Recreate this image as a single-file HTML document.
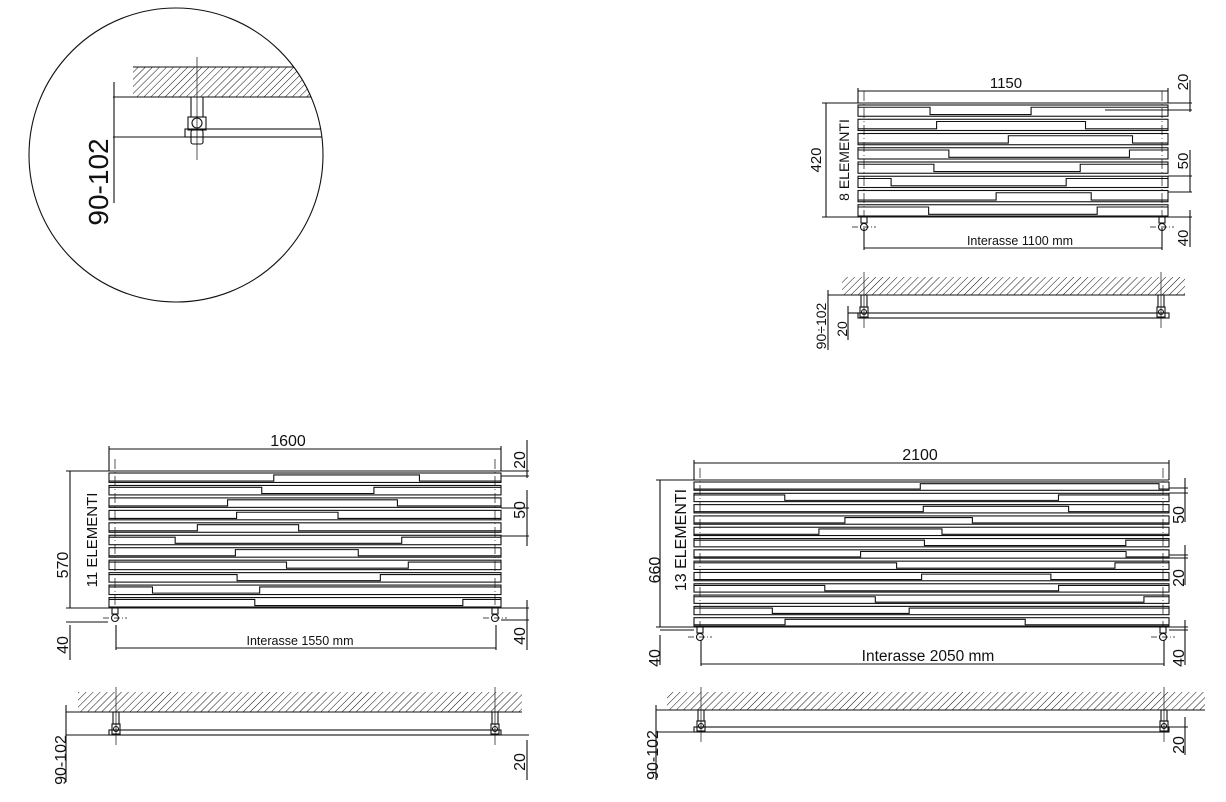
<!DOCTYPE html>
<html><head><meta charset="utf-8"><style>
html,body{margin:0;padding:0;background:#fff;}
svg{display:block;font-family:"Liberation Sans",Arial,sans-serif;}
</style></head><body>
<svg id="s" width="1226" height="802" viewBox="0 0 1226 802" xmlns="http://www.w3.org/2000/svg">
<defs>
<pattern id="h" width="5" height="5" patternUnits="userSpaceOnUse" patternTransform="rotate(45)">
<line x1="0" y1="0" x2="0" y2="5" stroke="#111" stroke-width="1"/></pattern>
<clipPath id="cc"><circle cx="176" cy="155" r="147"/></clipPath>
</defs>
<g id="g" fill="none" stroke="#111" stroke-width="1.1"></g>
<g id="t" fill="#111" stroke="none"></g>
</svg>
<script>
var g=document.getElementById('g'),t=document.getElementById('t'),NS='http://www.w3.org/2000/svg';
function el(p,tag,a,txt){var e=document.createElementNS(NS,tag);for(var k in a)e.setAttribute(k,a[k]);if(txt)e.textContent=txt;p.appendChild(e);return e;}
function L(x1,y1,x2,y2,extra){var a={x1:x1,y1:y1,x2:x2,y2:y2};if(extra)for(var k in extra)a[k]=extra[k];return el(g,'line',a);}
function R(x,y,w,h,extra){var a={x:x,y:y,width:w,height:h};if(extra)for(var k in extra)a[k]=extra[k];return el(g,'rect',a);}
function T(x,y,s,size,rot,anchor){var a={x:x,y:y,'font-size':size,'text-anchor':anchor||'middle'};if(rot)a.transform='rotate(-90 '+x+' '+y+')';return el(t,'text',a,s);}
var seed=3;function rnd(){seed=(seed*9301+49297)%233280;return seed/233280;}
function rad(x0,x1,top,bot,n){
  var h=(bot-top)/n;
  L(x0,top,x1,top);
  for(var i=0;i<n;i++){
    var y=top+i*h;
    R(x0,y+2,x1-x0,h-3);
    var a=x0+(x1-x0)*(0.1+rnd()*0.4),b=a+(x1-x0)*(0.25+rnd()*0.35);if(b>x1-10)b=x1-10;
    var hi=y+2+(h-3)*0.2,lo=y+2+(h-3)*0.85;
    var up=rnd()<0.5;
    el(g,'polyline',{points:x0+','+(up?lo:hi)+' '+a+','+(up?lo:hi)+' '+a+','+(up?hi:lo)+' '+b+','+(up?hi:lo)+' '+b+','+(up?lo:hi)+' '+x1+','+(up?lo:hi)});
  }
  L(x0,bot,x1,bot);
  L(x0+6,top-12,x0+6,bot,{'stroke-dasharray':'10 3 1 3','stroke-width':0.7});
  L(x1-6,top-12,x1-6,bot,{'stroke-dasharray':'10 3 1 3','stroke-width':0.7});
  [x0+6,x1-6].forEach(function(x){R(x-3,bot,6,6);el(g,'circle',{cx:x,cy:bot+10,r:3.5});L(x-12,bot+10,x+12,bot+10,{'stroke-dasharray':'6 2 1 2','stroke-width':0.7});});
}
function side(hx0,hx1,hy0,hy1,lx,bx0,bx1,by,vx){
  R(hx0,hy0,hx1-hx0,hy1-hy0,{fill:'url(#h)',stroke:'none'});
  L(lx,hy1,hx1,hy1);
  R(bx0,by,bx1-bx0,5);
  vx.forEach(function(x){R(x-3,hy1,6,by-hy1-6);R(x-4,by-6,8,10);el(g,'circle',{cx:x,cy:by-1,r:2.5});L(x,hy0-5,x,by+15,{'stroke-width':0.7});});
}
el(g,'circle',{cx:176,cy:155,r:147});
var cg=el(g,'g',{'clip-path':'url(#cc)'});
el(cg,'rect',{x:133,y:67,width:200,height:30,fill:'url(#h)',stroke:'none'});
el(cg,'line',{x1:133,y1:67,x2:330,y2:67});
el(cg,'line',{x1:113,y1:97,x2:330,y2:97});
el(cg,'rect',{x:185,y:129,width:150,height:8});
L(191,97,191,117);L(203,97,203,117);
R(188,117,18,13);el(g,'circle',{cx:197,cy:123,r:5});R(191,130,12,14,{rx:2});
L(197,57,197,160,{'stroke-width':0.7});
L(114,82,114,203);L(113,137,185,137);
T(108,182,'90-102',28,true);
rad(858,1168,103,217,8);
L(858,91,1168,91);L(858,88,858,103);L(1168,88,1168,103);
L(826,103,826,217);L(822,103,858,103);L(822,217,858,217);
L(1190,80,1190,112);L(1168,103,1192,103);L(1105,110,1192,110);
L(1190,150,1190,192);L(1168,176,1192,176);L(1168,192,1192,192);
L(1190,210,1190,247);L(1168,217,1192,217);
L(864,248,1162,248);L(864,228,864,250);L(1162,228,1162,250);
T(1006,88,'1150',15);T(821,160,'420',15,true);T(849,160,'8 ELEMENTI',14,true);
T(1188,82,'20',15,true);T(1188,161,'50',15,true);T(1188,238,'40',15,true);
T(1020,245,'Interasse 1100 mm',12.5);
side(842,1185,277,295,828,858,1169,313,[864,1161]);
L(828,290,828,350);L(848,306,848,340);L(848,313,858,313);
T(826,326,'90÷102',14,true);T(847,329,'20',14,true);
rad(109,501,471,608,11);
L(109,449,501,449);L(109,446,109,471);L(501,446,501,471);
L(70,471,70,608);L(66,471,109,471);L(66,608,109,608);L(66,622,108,622);
L(527,440,527,478);L(501,471,529,471);L(501,476,529,476);
L(527,490,527,546);L(501,508,529,508);L(501,536,529,536);
L(527,600,527,650);L(501,608,529,608);L(501,620,529,620);
L(116,648,496,648);L(116,625,116,650);L(496,625,496,650);
L(70,625,70,660);
T(288,446,'1600',16);T(68,565,'570',16,true);T(97,540,'11 ELEMENTI',15,true);
T(525,460,'20',16,true);T(525,510,'50',16,true);T(525,636,'40',16,true);T(68,645,'40',16,true);
T(300,645,'Interasse 1550 mm',12.5);
side(78,522,692,712,66,109,501,730,[116,495]);
L(66,705,66,782);L(66,735,109,735);L(527,740,527,780);L(501,735,529,735);
T(66,760,'90-102',16,true);T(525,762,'20',16,true);
rad(694,1169,480,627,13);
L(694,463,1169,463);L(694,460,694,480);L(1169,460,1169,480);
L(660,480,660,627);L(656,480,694,480);L(656,627,694,627);L(660,630,694,630);
L(1185,478,1185,522);L(1169,488,1188,488);L(1169,493,1188,493);
L(1185,545,1185,585);L(1169,555,1188,555);L(1169,558,1188,558);
L(1185,620,1185,665);L(1169,627,1188,627);L(1169,630,1188,630);
L(701,664,1164,664);L(701,640,701,666);L(1164,640,1164,666);
L(660,635,660,665);
T(920,460,'2100',16);T(660,570,'660',16,true);T(686,540,'13 ELEMENTI',16,true);
T(1184,515,'50',16,true);T(1184,578,'20',16,true);T(1184,658,'40',16,true);T(660,658,'40',16,true);
T(928,661,'Interasse  2050 mm',15.5);
side(667,1205,692,710,656,694,1169,727,[701,1164]);
L(656,705,656,780);L(656,732,694,732);L(1185,717,1185,755);L(1169,727,1188,727);
T(658,755,'90-102',16,true);T(1184,745,'20',16,true);
</script>
</body></html>
